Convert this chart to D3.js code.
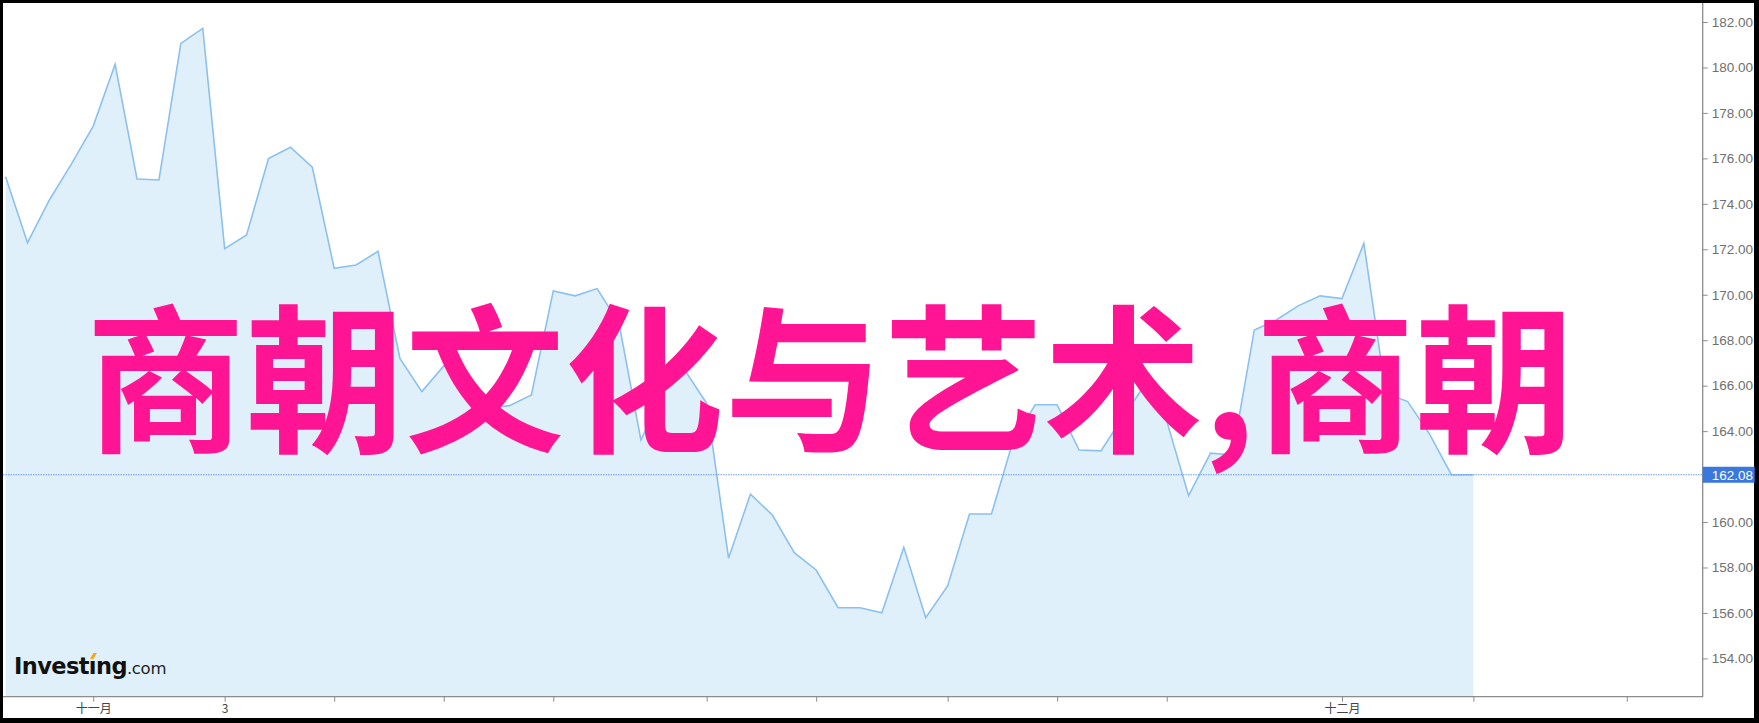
<!DOCTYPE html>
<html><head><meta charset="utf-8">
<script src="https://cdn.jsdelivr.net/npm/d3@7"></script>
<style>
html,body{margin:0;padding:0;background:#000;}
svg{display:block;}
</style></head><body>
<svg id="chart" width="1759" height="723"></svg>
<script>
// ---- data ----
const values = [
  175.19, 172.29, 174.17, 175.75, 177.42, 180.14, 175.09, 175.05, 181.06, 181.72,
  172.03, 172.63, 175.99, 176.49, 175.61, 171.16, 171.31, 171.91, 167.20, 165.74,
  166.87, 166.60, 165.02, 165.12, 165.59, 170.17, 169.95, 170.27, 168.74, 163.61,
  165.68, 166.69, 165.22, 158.41, 161.23, 160.31, 158.65, 157.89, 156.23, 156.23,
  156.01, 158.89, 155.79, 157.19, 160.35, 160.35, 163.61, 165.16, 165.16, 163.17,
  163.13, 164.62, 166.03, 164.45, 161.16, 163.03, 162.95, 168.45, 168.89, 169.51,
  169.95, 169.83, 172.26, 165.68, 165.30, 163.87, 162.07, 162.08
];
const xTickIndex = [4, 10, 15, 20, 25, 32, 37, 43, 48, 53, 61, 67, 74];
const xTickLabels = ["十一月", "3", "", "", "", "", "", "", "", "", "十二月", "", ""];
const yTicks = [154, 156, 158, 160, 162, 164, 166, 168, 170, 172, 174, 176, 178, 180, 182];
const lastValue = 162.08;
const titleText = "商朝文化与艺术,商朝";

// ---- layout ----
const W = 1759, H = 723;
const plot = {left: 3, right: 1702.7, top: 3, bottom: 696.7};
const svg = d3.select("#chart");

svg.append("rect").attr("width", W).attr("height", H).attr("fill", "#000");
svg.append("rect").attr("x", 3).attr("y", 3).attr("width", 1751).attr("height", 715).attr("fill", "#fff");

const x = d3.scaleLinear().domain([0, values.length - 1]).range([5.6, 1473.4]);
const y = d3.scaleLinear().domain([154, 182]).range([658.4, 22]);

svg.append("clipPath").attr("id", "plotclip").append("rect")
  .attr("x", plot.left).attr("y", plot.top)
  .attr("width", plot.right - plot.left).attr("height", plot.bottom - plot.top);

const g = svg.append("g").attr("clip-path", "url(#plotclip)");

const area = d3.area().x((d, i) => x(i)).y0(plot.bottom).y1(d => y(d));
const line = d3.line().x((d, i) => x(i)).y(d => y(d));

g.append("path").datum(values).attr("d", area).attr("fill", "#e0f0fa");
g.append("path").datum(values).attr("d", line)
  .attr("fill", "none").attr("stroke", "#8cc0ee").attr("stroke-width", 1.6)
  .attr("stroke-linejoin", "miter");

// last value dotted line
g.append("line")
  .attr("x1", plot.left).attr("x2", plot.right)
  .attr("y1", y(lastValue)).attr("y2", y(lastValue))
  .attr("stroke", "#6d98e6").attr("stroke-width", 1).attr("stroke-dasharray", "1.5,1");

// logo
const logo = svg.append("text").attr("x", 14).attr("y", 674)
  .attr("font-family", "DejaVu Sans").attr("fill", "#111");
logo.append("tspan").attr("font-weight", "bold").attr("font-size", 22.5)
  .attr("letter-spacing", -0.6).text("Investıng");
logo.append("tspan").attr("font-size", 16.5).attr("fill", "#222").attr("letter-spacing", -0.3).text(".com");
// orange dot of the i
{
  const tnode = logo.select("tspan").node();
  const ext = tnode.getExtentOfChar(6);
  svg.append("path")
    .attr("d", `M${ext.x + ext.width / 2 - 2.5},${659} l3.5,-6 l3.5,0 l-3.5,6 z`)
    .attr("fill", "#f7a51c");
}

// axes frame lines
svg.append("line").attr("x1", plot.right).attr("x2", plot.right)
  .attr("y1", plot.top).attr("y2", plot.bottom + 0.5)
  .attr("stroke", "#8c8c8c").attr("stroke-width", 1.3);
svg.append("line").attr("x1", plot.left).attr("x2", plot.right)
  .attr("y1", plot.bottom).attr("y2", plot.bottom)
  .attr("stroke", "#8c8c8c").attr("stroke-width", 1.3);

// right axis
const yAxis = d3.axisRight(y).tickValues(yTicks).tickFormat(d3.format(".2f"))
  .tickSize(5).tickPadding(4);
const ya = svg.append("g").attr("transform", `translate(${plot.right},0)`).call(yAxis);
ya.select(".domain").remove();
ya.selectAll("line").attr("stroke", "#8c8c8c");
ya.selectAll("text").attr("fill", "#707070").attr("font-size", 13.5)
  .attr("font-family", "Liberation Sans, Arial, sans-serif");

// last value label
const ly = y(lastValue);
svg.append("rect").attr("x", plot.right).attr("y", ly - 8)
  .attr("width", 52).attr("height", 16).attr("fill", "#3b78dd");
svg.append("text").attr("x", plot.right + 9).attr("y", ly).attr("dy", "0.36em")
  .attr("fill", "#fff").attr("font-size", 13.5)
  .attr("font-family", "Liberation Sans, Arial, sans-serif").text(lastValue.toFixed(2));

// bottom axis
const xAxis = d3.axisBottom(x).tickValues(xTickIndex)
  .tickFormat((d, i) => xTickLabels[i]).tickSize(5).tickPadding(3);
const xa = svg.append("g").attr("transform", `translate(0,${plot.bottom})`).call(xAxis);
xa.select(".domain").remove();
xa.selectAll("line").attr("stroke", "#8c8c8c");
xa.selectAll("text").attr("fill", "#444").attr("font-size", 12)
  .attr("font-family", "Noto Sans CJK SC, sans-serif");

// big title overlay
svg.append("text").attr("x", 86).attr("y", 440)
  .attr("font-family", "Noto Sans CJK SC").attr("font-weight", "bold")
  .attr("font-size", 159).attr("letter-spacing", 0.6).attr("fill", "#ff1493").text(titleText);
</script>
</body></html>
